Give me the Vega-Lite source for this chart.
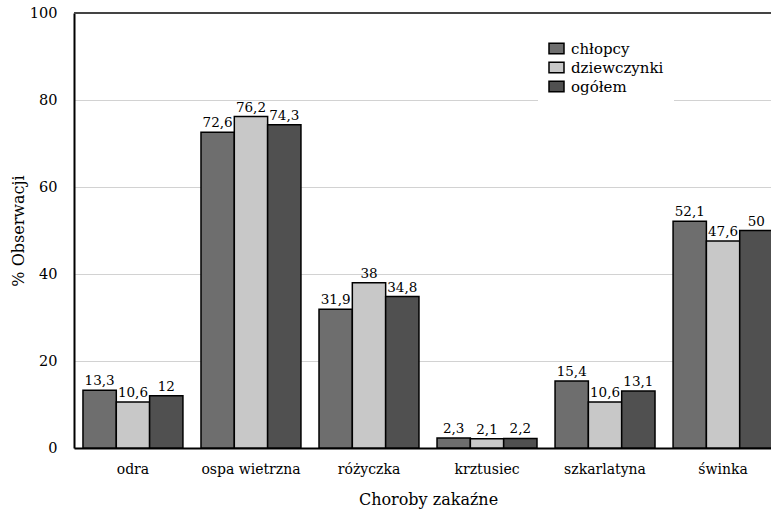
{
  "$schema": "https://vega.github.io/schema/vega-lite/v6.json",
  "autosize": {"type": "none"},
  "padding": {"left": 74, "top": 13, "right": 0, "bottom": 63},
  "width": 697,
  "height": 435,
  "background": "white",
  "config": {
    "font": "DejaVu Serif",
    "view": {"stroke": null},
    "locale": {"number": {"decimal": ",", "thousands": " ", "grouping": [3], "currency": ["", " zł"]}}
  },
  "data": {
    "values": [
      {"choroba": "odra", "grupa": "chłopcy", "v": 13.3},
      {"choroba": "odra", "grupa": "dziewczynki", "v": 10.6},
      {"choroba": "odra", "grupa": "ogółem", "v": 12},
      {"choroba": "ospa wietrzna", "grupa": "chłopcy", "v": 72.6},
      {"choroba": "ospa wietrzna", "grupa": "dziewczynki", "v": 76.2},
      {"choroba": "ospa wietrzna", "grupa": "ogółem", "v": 74.3},
      {"choroba": "różyczka", "grupa": "chłopcy", "v": 31.9},
      {"choroba": "różyczka", "grupa": "dziewczynki", "v": 38},
      {"choroba": "różyczka", "grupa": "ogółem", "v": 34.8},
      {"choroba": "krztusiec", "grupa": "chłopcy", "v": 2.3},
      {"choroba": "krztusiec", "grupa": "dziewczynki", "v": 2.1},
      {"choroba": "krztusiec", "grupa": "ogółem", "v": 2.2},
      {"choroba": "szkarlatyna", "grupa": "chłopcy", "v": 15.4},
      {"choroba": "szkarlatyna", "grupa": "dziewczynki", "v": 10.6},
      {"choroba": "szkarlatyna", "grupa": "ogółem", "v": 13.1},
      {"choroba": "świnka", "grupa": "chłopcy", "v": 52.1},
      {"choroba": "świnka", "grupa": "dziewczynki", "v": 47.6},
      {"choroba": "świnka", "grupa": "ogółem", "v": 50}
    ]
  },
  "encoding": {
    "x": {
      "field": "choroba",
      "type": "nominal",
      "sort": null,
      "scale": {"range": [0, 708], "paddingInner": 0.153, "paddingOuter": 0.076},
      "axis": {
        "title": "Choroby zakaźne",
        "titleFontSize": 16,
        "titleFontWeight": "normal",
        "titleColor": "black",
        "titlePadding": 15,
        "labelAngle": 0,
        "labelFontSize": 14,
        "labelColor": "black",
        "labelPadding": 14,
        "ticks": false,
        "domainColor": "black",
        "domainWidth": 2
      }
    },
    "xOffset": {"field": "grupa", "type": "nominal", "sort": ["chłopcy", "dziewczynki", "ogółem"], "scale": {"paddingInner": 0, "paddingOuter": 0}}
  },
  "layer": [
    {
      "mark": {"type": "bar", "stroke": "black", "strokeWidth": 1.5},
      "encoding": {
        "y": {
          "field": "v",
          "type": "quantitative",
          "scale": {"domain": [0, 100], "nice": false},
          "axis": {
            "title": "% Obserwacji",
            "titleFontSize": 16,
            "titleFontWeight": "normal",
            "titleColor": "black",
            "titlePadding": 3,
            "values": [0, 20, 40, 60, 80, 100],
            "labelFontSize": 14.5,
            "labelColor": "black",
            "labelPadding": 17,
            "ticks": false,
            "domainColor": "black",
            "domainWidth": 2,
            "gridColor": "#d2d2d2",
            "gridWidth": 1.2
          }
        },
        "fill": {
          "field": "grupa",
          "type": "nominal",
          "sort": ["chłopcy", "dziewczynki", "ogółem"],
          "scale": {"range": ["#6e6e6e", "#c8c8c8", "#505050"]},
          "legend": {
            "title": null,
            "orient": "none",
            "legendX": 464,
            "legendY": 17,
            "padding": 10,
            "fillColor": "white",
            "symbolType": "M-1,-0.7H1V0.7H-1Z",
            "symbolSize": 225,
            "symbolStrokeColor": "black",
            "symbolStrokeWidth": 1.5,
            "symbolOpacity": 1,
            "labelFontSize": 15,
            "labelColor": "black",
            "labelOffset": 6,
            "rowPadding": 2
          }
        }
      }
    },
    {
      "mark": {"type": "text", "dy": -9, "fontSize": 13.5, "color": "black"},
      "encoding": {
        "y": {"field": "v", "type": "quantitative"},
        "text": {"field": "v", "type": "quantitative", "format": "~g"}
      }
    },
    {
      "mark": {"type": "rule", "color": "#444444", "strokeWidth": 2},
      "encoding": {"y": {"datum": 100}, "xOffset": null, "x": null}
    }
  ]
}
